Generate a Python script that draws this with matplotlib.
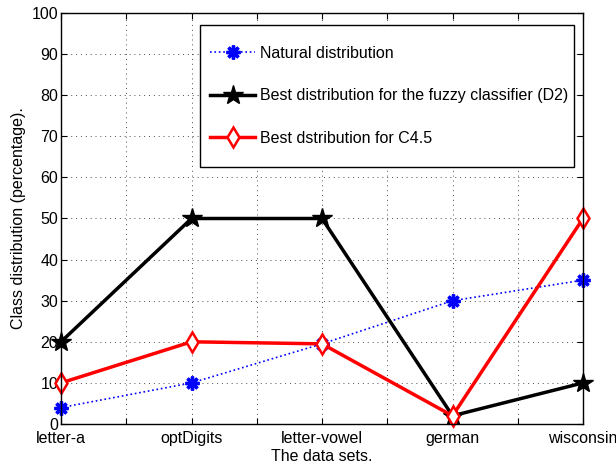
#!/usr/bin/env python3
"""Class distribution per data set: natural vs best for fuzzy classifier vs best for C4.5"""

import matplotlib
matplotlib.use("Agg")
import matplotlib.pyplot as plt
from matplotlib.patches import Rectangle
import numpy as np

plt.rcParams["font.family"] = ["Liberation Sans", "DejaVu Sans"]

datasets = ["letter-a", "optDigits", "letter-vowel", "german", "wisconsin"]
natural = [4, 10, 19.5, 30, 35]
best_fuzzy = [20, 50, 50, 2, 10]
best_c45 = [10, 20, 19.5, 2, 50]

x = np.arange(1, len(datasets) + 1)

fig = plt.figure(figsize=(6.16, 4.66), dpi=100)
ax = fig.add_axes([61 / 616, 1 - 424 / 466, (583 - 61) / 616, (424 - 13) / 466])

lines = []
lines += ax.plot(x, natural, linestyle=":", color="blue", linewidth=1.2,
                 marker=(8, 2, 0), markersize=10, markeredgewidth=2.4,
                 label="Natural distribution")
lines += ax.plot(x, best_fuzzy, linestyle="-", color="black", linewidth=2.5,
                 marker="*", markersize=15, label="Best distribution for the fuzzy classifier (D2)")
lines += ax.plot(x, best_c45, linestyle="-", color="red", linewidth=2.5,
                 marker="d", markersize=10, markerfacecolor="white", markeredgewidth=1.8,
                 label="Best dstribution for C4.5")
for ln in lines:
    ln.set_clip_on(False)

# ticks at half steps, labels only on the data sets
xticks = np.arange(1, len(datasets) + 0.5, 0.5)
xlabels = []
for t in xticks:
    xlabels.append(datasets[int(t) - 1] if t == int(t) else "")
ax.set_xticks(xticks)
ax.set_xticklabels(xlabels)
ax.set_yticks(np.arange(0, 101, 10))
ax.set_xlim(1, 5)
ax.set_ylim(0, 100)

ax.tick_params(direction="in", top=True, right=True, labelsize=11.5, length=4)
ax.tick_params(axis="x", pad=5)
ax.tick_params(axis="y", pad=2)
ax.grid(True, linestyle=(0, (1, 4)), color="black", linewidth=0.7, alpha=0.7)
for s in ax.spines.values():
    s.set_linewidth(1.0)
    s.set_zorder(3)

ax.set_xlabel("The data sets.", fontsize=11.5, labelpad=2)
ax.set_ylabel("Class distribution (percentage).", fontsize=11.5, labelpad=4)

# legend without frame; a taller white box is drawn behind it (MATLAB look)
leg = ax.legend(loc="upper right", bbox_to_anchor=(576 / 616, 1 - 38 / 466),
                bbox_transform=fig.transFigure,
                fontsize=11.5, labelspacing=1.72, handlelength=2.8,
                borderpad=0.0, handletextpad=0.3, frameon=False)
fig.canvas.draw()
bb = leg.get_window_extent().transformed(fig.transFigure.inverted())
padx_l, padx_r, pady = 10 / 616, 6 / 616, 21 / 466
box = Rectangle((bb.x0 - padx_l, bb.y0 - pady), bb.width + padx_l + padx_r,
                bb.height + 2 * pady, transform=fig.transFigure,
                facecolor="white", edgecolor="black", linewidth=1.0, zorder=4)
fig.add_artist(box)
leg.set_zorder(5)
leg.remove()
fig.add_artist(leg)

plt.savefig("out.png", dpi=100)
